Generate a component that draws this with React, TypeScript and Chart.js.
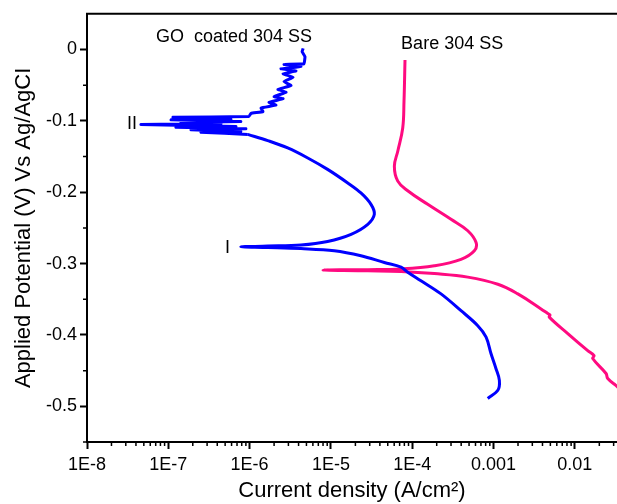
import React, { useEffect, useRef } from 'react';
import { Chart, registerables } from 'chart.js';

Chart.register(...registerables);

const FONT = '"Liberation Sans", Arial, Helvetica, sans-serif';

// GO coated 304 SS (blue) — current density (A/cm2), potential (V)
const goCurrent = [
  8.49e-4, 1.13e-3, 1.18e-3, 1.07e-3, 9.3e-4, 8.1e-4, 6.4e-4, 3.98e-4, 2.26e-4, 1.28e-4,
  8.8e-5, 7.3e-5, 4.54e-5, 2.34e-5, 1.1e-5, 4.28e-6, 1.67e-6, 7.8e-7, 1.67e-6, 4.28e-6,
  9.1e-6, 1.77e-5, 2.84e-5, 3.42e-5, 3.11e-5, 2.34e-5, 1.61e-5, 9.1e-6, 5.19e-6, 2.94e-6,
  1.67e-6, 9.5e-7, 2.52e-7, 7.8e-7, 1.9e-7, 9.0e-7, 1.24e-7, 6.8e-7, 4.6e-8, 4.45e-7,
  1.43e-7, 7.8e-7, 1.08e-7, 5.9e-7, 1.14e-7, 9.8e-7, 1.04e-6, 1.46e-6, 1.38e-6, 2.11e-6,
  1.73e-6, 2.58e-6, 2.0e-6, 2.81e-6, 2.23e-6, 3.23e-6, 2.65e-6, 3.42e-6, 2.58e-6, 3.72e-6,
  2.43e-6, 4.28e-6, 2.65e-6, 4.67e-6, 4.8e-6, 4.42e-6, 4.55e-6,
];
const goPotential = [
  -0.489, -0.4775, -0.4635, -0.447, -0.426, -0.403, -0.387, -0.366, -0.3425, -0.324,
  -0.312, -0.305, -0.2985, -0.289, -0.282, -0.279, -0.2775, -0.2765, -0.2755, -0.274,
  -0.269, -0.259, -0.245, -0.231, -0.217, -0.201, -0.187, -0.168, -0.152, -0.138,
  -0.1277, -0.119, -0.116, -0.115, -0.1126, -0.111, -0.109, -0.108, -0.105, -0.104,
  -0.102, -0.101, -0.0986, -0.098, -0.095, -0.094, -0.0896, -0.087, -0.082, -0.078,
  -0.074, -0.069, -0.066, -0.06, -0.056, -0.0505, -0.045, -0.039, -0.034, -0.03,
  -0.027, -0.024, -0.021, -0.02, -0.01, -0.003, 0.0015,
];
// index where the smooth part of the GO curve ends and the noisy part begins
const goNoisyStart = 31;

// Bare 304 SS (pink)
const bareCurrent = [
  0.0491, 0.0337, 0.0254, 0.0242, 0.0166, 0.0172, 0.0144, 8.19e-3, 4.85e-3, 4.95e-3,
  4.65e-3, 3.84e-3, 1.99e-3, 1.13e-3, 4.82e-4, 1.87e-4, 7.3e-5, 2.84e-5, 8.0e-6, 2.84e-5,
  7.3e-5, 1.87e-4, 3.98e-4, 5.81e-4, 6.1e-4, 4.82e-4, 3.0e-4, 1.55e-4, 8.8e-5, 6.64e-5,
  6.03e-5, 6.64e-5, 7.64e-5, 7.92e-5, 8.15e-5,
];
const barePotential = [
  -0.491, -0.473, -0.461, -0.454, -0.433, -0.429, -0.422, -0.398, -0.375, -0.372,
  -0.37, -0.3635, -0.3425, -0.329, -0.319, -0.314, -0.311, -0.31, -0.309, -0.3085,
  -0.3075, -0.303, -0.294, -0.282, -0.2705, -0.254, -0.238, -0.217, -0.198, -0.1845,
  -0.1635, -0.1426, -0.11, -0.073, -0.0147,
];

const xTickValues = [1e-8, 1e-7, 1e-6, 1e-5, 1e-4, 1e-3, 1e-2];
const xTickLabels = ['1E-8', '1E-7', '1E-6', '1E-5', '1E-4', '0.001', '0.01'];
const yTickValues = [0, -0.1, -0.2, -0.3, -0.4, -0.5];
const yTickLabels = ['0', '-0.1', '-0.2', '-0.3', '-0.4', '-0.5'];

const annotationTexts = ['GO  coated 304 SS', 'Bare 304 SS', 'II', 'I'];
const annotationX = [7.06e-8, 7.3e-5, 3.1e-8, 4.98e-7];
const annotationY = [0.018, 0.0074, -0.105, -0.278];

const X_MIN = 1e-8;
const X_MAX = 0.033;
const Y_MIN = -0.55;
const Y_MAX = 0.05;

const decorPlugin = {
  id: 'decor',
  afterDraw(chart: any) {
    const { ctx, chartArea, scales } = chart;
    const xs = scales.x;
    const ys = scales.y;
    ctx.save();
    ctx.strokeStyle = '#000';
    // top frame line
    ctx.lineWidth = 2;
    ctx.beginPath();
    ctx.moveTo(chartArea.left - 1, chartArea.top);
    ctx.lineTo(chartArea.right, chartArea.top);
    ctx.stroke();
    // minor ticks on x (log)
    ctx.lineWidth = 1.5;
    ctx.beginPath();
    for (let d = -8; d <= -1; d++) {
      for (let m = 2; m <= 9; m++) {
        const v = m * Math.pow(10, d);
        if (v >= X_MAX) continue;
        const px = xs.getPixelForValue(v);
        ctx.moveTo(px, chartArea.bottom);
        ctx.lineTo(px, chartArea.bottom + 4);
      }
    }
    // minor ticks on y
    for (let k = 0; k < 6; k++) {
      const v = -0.05 - 0.1 * k;
      const py = ys.getPixelForValue(v);
      ctx.moveTo(chartArea.left, py);
      ctx.lineTo(chartArea.left - 4, py);
    }
    ctx.stroke();
    // annotation texts
    ctx.fillStyle = '#000';
    ctx.font = `18px ${FONT}`;
    ctx.textAlign = 'left';
    ctx.textBaseline = 'middle';
    for (let i = 0; i < annotationTexts.length; i++) {
      ctx.fillText(
        annotationTexts[i],
        xs.getPixelForValue(annotationX[i]),
        ys.getPixelForValue(annotationY[i])
      );
    }
    ctx.restore();
  },
};

export default function App() {
  const ref = useRef<HTMLCanvasElement>(null);

  useEffect(() => {
    const goData = goCurrent.map((c, i) => ({ x: c, y: goPotential[i] }));
    const goSmooth = goData.slice(0, goNoisyStart + 1);
    const goNoisy = goData.slice(goNoisyStart);
    const bareData = bareCurrent.map((c, i) => ({ x: c, y: barePotential[i] }));
    const chart = new Chart(ref.current as HTMLCanvasElement, {
      type: 'line',
      data: {
        datasets: [
          {
            label: 'GO coated 304 SS',
            data: goSmooth,
            borderColor: '#0000ff',
            borderWidth: 3,
            pointRadius: 0,
            tension: 0.35,
            fill: false,
          },
          {
            label: 'GO coated 304 SS (noisy)',
            data: goNoisy,
            borderColor: '#0000ff',
            borderWidth: 3,
            pointRadius: 0,
            tension: 0.05,
            fill: false,
          },
          {
            label: 'Bare 304 SS',
            data: bareData,
            borderColor: '#ff0a80',
            borderWidth: 3,
            pointRadius: 0,
            tension: 0.4,
            fill: false,
          },
        ],
      },
      options: {
        animation: false,
        responsive: false,
        devicePixelRatio: 1,
        layout: { padding: { top: 12, right: 0, left: 0, bottom: 0 } },
        plugins: {
          legend: { display: false },
          tooltip: { enabled: false },
        },
        scales: {
          x: {
            type: 'logarithmic',
            position: 'bottom',
            min: X_MIN,
            max: X_MAX,
            bounds: 'data',
            afterBuildTicks: (scale: any) => {
              scale.ticks = xTickValues.map((v) => ({ value: v }));
            },
            afterFit: (scale: any) => {
              scale.height = 62;
            },
            ticks: {
              autoSkip: false,
              maxRotation: 0,
              padding: 5,
              color: '#000',
              font: { family: FONT, size: 18 },
              callback: (value: any) => {
                const i = xTickValues.findIndex((v) => Math.abs(v - Number(value)) / v < 1e-6);
                return i >= 0 ? xTickLabels[i] : '';
              },
            },
            grid: {
              display: true,
              drawOnChartArea: false,
              drawTicks: true,
              tickLength: 7,
              tickWidth: 2,
              tickColor: '#000',
            },
            border: { display: true, color: '#000', width: 2 },
            title: {
              display: true,
              text: 'Current density (A/cm²)',
              color: '#000',
              font: { family: FONT, size: 22 },
              padding: { top: 0, bottom: 0 },
            },
          },
          y: {
            type: 'linear',
            min: Y_MIN,
            max: Y_MAX,
            bounds: 'data',
            afterBuildTicks: (scale: any) => {
              scale.ticks = yTickValues.map((v) => ({ value: v }));
            },
            afterFit: (scale: any) => {
              scale.width = 87;
            },
            ticks: {
              autoSkip: false,
              padding: 3,
              color: '#000',
              font: { family: FONT, size: 18 },
              callback: (value: any) => {
                const i = yTickValues.findIndex((v) => Math.abs(v - Number(value)) < 1e-9);
                return i >= 0 ? yTickLabels[i] : '';
              },
            },
            grid: {
              display: true,
              drawOnChartArea: false,
              drawTicks: true,
              tickLength: 7,
              tickWidth: 2,
              tickColor: '#000',
            },
            border: { display: true, color: '#000', width: 2 },
            title: {
              display: true,
              text: 'Applied Potential (V) Vs Ag/AgCI',
              color: '#000',
              font: { family: FONT, size: 22 },
              padding: { top: 11, bottom: 0 },
            },
          },
        },
      },
      plugins: [decorPlugin],
    } as any);
    return () => chart.destroy();
  }, []);

  return (
    <div style={{ position: 'absolute', left: 0, top: 0, width: 617, height: 504, background: '#fff' }}>
      <canvas ref={ref} width={617} height={504} style={{ display: 'block' }} />
    </div>
  );
}
